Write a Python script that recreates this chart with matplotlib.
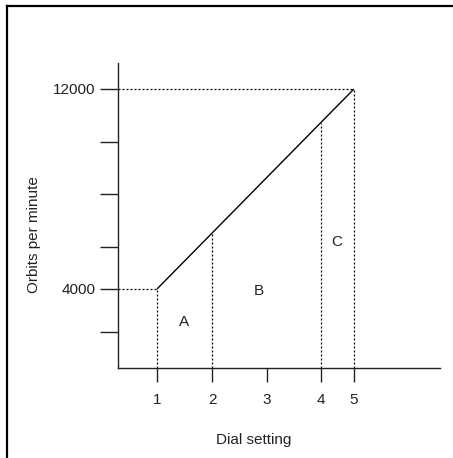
import matplotlib
matplotlib.use('Agg')
from matplotlib import pyplot as plt
from matplotlib.lines import Line2D

plt.rcParams['font.family'] = ['Liberation Sans', 'DejaVu Sans']

# dial positions on the (schematic) axis and their labels
dial_pos = [1, 2, 3, 3.98, 4.58]
dial_labels = ['1', '2', '3', '4', '5']

# y ticks, only two of them labelled
rpm_ticks = [2280, 4000, 5680, 7800, 9880, 12000]
rpm_labels = ['', '4000', '', '', '', '12000']

# the speed line: from dial 1 at 4000 to dial 5 at 12000
line_x = [1, 4.58]
line_y = [4000, 12000]

# dotted drops at dial 2 and 4 (up to the line)
drop_x = [2, 3.98]

regions = ['A', 'B', 'C']
region_x = [1.49, 2.85, 4.27]
region_y = [2680, 3920, 5880]

W, H = 453, 458
fig = plt.figure(figsize=(W / 100, H / 100), dpi=100)


def fx(px):
    return px / W


def fy(py):
    return 1 - py / H


ax = fig.add_axes([fx(118), fy(368), fx(440) - fx(118), fy(63) - fy(368)])
ax.set_xlim(0.291, 6.145)
ax.set_ylim(840, 13040)

for s in ['top', 'right']:
    ax.spines[s].set_visible(False)
for s in ['left', 'bottom']:
    ax.spines[s].set_linewidth(1.0)
    ax.spines[s].set_color('#222222')

ax.set_xticks(dial_pos)
ax.set_xticklabels(dial_labels)
ax.set_yticks(rpm_ticks)
ax.set_yticklabels(rpm_labels)
ax.tick_params(axis='x', direction='out', length=10, width=1.0, pad=8, labelsize=11, colors='#222222')
ax.tick_params(axis='y', direction='out', length=13, width=1.0, pad=3, labelsize=11, colors='#222222')

ax.plot(line_x, line_y, color='black', lw=1.0, solid_capstyle='butt')

dots = dict(color='black', lw=0.9, linestyle=(0, (1.6, 1.6)))
xmin = ax.get_xlim()[0]
ymin = ax.get_ylim()[0]
# horizontal guides to 4000 and 12000
ax.plot([xmin, line_x[0]], [line_y[0], line_y[0]], **dots)
ax.plot([xmin, line_x[1]], [line_y[1], line_y[1]], **dots)
# verticals at the ends
ax.plot([line_x[0], line_x[0]], [ymin, line_y[0]], **dots)
ax.plot([line_x[1], line_x[1]], [ymin, line_y[1]], **dots)
slope = (line_y[1] - line_y[0]) / (line_x[1] - line_x[0])
for x in drop_x:
    ax.plot([x, x], [ymin, line_y[0] + slope * (x - line_x[0])], **dots)

for lab, x, y in zip(regions, region_x, region_y):
    ax.text(x, y, lab, ha='center', va='center', fontsize=11, color='#222222')

fig.text(fx(254), fy(440), 'Dial setting', ha='center', va='center', fontsize=11, color='#222222')
fig.text(fx(34), fy(235), 'Orbits per minute', ha='center', va='center', rotation=90,
         fontsize=11, color='#222222')

# partial frame (top and left edges only)
fig.add_artist(Line2D([fx(7), 1], [fy(6), fy(6)], color='black', lw=1.6))
fig.add_artist(Line2D([fx(7), fx(7)], [fy(6), 0], color='black', lw=1.6))

fig.savefig('out.png', dpi=100)
